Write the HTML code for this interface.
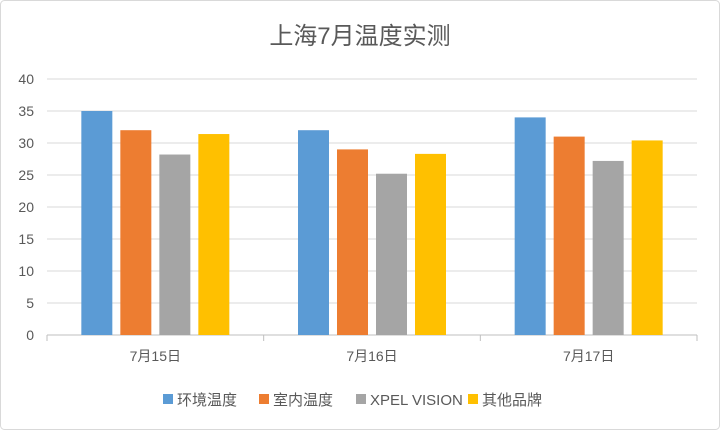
<!DOCTYPE html>
<html><head><meta charset="utf-8"><style>
body{margin:0;background:#fff;}
svg{display:block;font-family:"Liberation Sans","Noto Sans CJK SC",sans-serif;}
</style></head><body>
<svg width="720" height="430">
<rect x="0.5" y="0.5" width="719" height="429" rx="4" fill="#fff" stroke="#d9d9d9"/>
<text x="360" y="44" text-anchor="middle" font-size="24" fill="#595959">上海7月温度实测</text>
<g id="grid"></g><g id="bars"></g><g id="axes"></g><g id="legend"></g>
</svg>
<script>
const categories=["7月15日","7月16日","7月17日"];
const seriesNames=["环境温度","室内温度","XPEL VISION","其他品牌"];
const s1=[35,32,34];
const s2=[32,29,31];
const s3=[28.2,25.2,27.2];
const s4=[31.4,28.3,30.4];
const yTicks=[0,5,10,15,20,25,30,35,40];
const colors=["#5b9bd5","#ed7d31","#a5a5a5","#ffc000"];
const series=[s1,s2,s3,s4];
const NS="http://www.w3.org/2000/svg";
const x0=47,x1=697,y0=335,y1=79,yMax=40;
const y=v=>y0-(v/yMax)*(y0-y1);
const cw=(x1-x0)/categories.length;
const bw=31,gap=8;
function mk(t,a,p){const e=document.createElementNS(NS,t);for(const k in a)e.setAttribute(k,a[k]);p.appendChild(e);return e;}
const grid=document.getElementById('grid'),axes=document.getElementById('axes'),bars=document.getElementById('bars'),leg=document.getElementById('legend');
yTicks.forEach(t=>{
 const l=mk('line',{x1:x0,x2:x1,y1:y(t),y2:y(t),stroke:t===0?'#bfbfbf':'#d9d9d9','stroke-width':1},grid);
 
 
 const tx=mk('text',{x:34,y:y(t)+5,'text-anchor':'end','font-size':14,fill:'#595959'},axes);
 tx.textContent=t;
 
 
});
for(let i=0;i<=categories.length;i++){
 const l=mk('line',{x1:x0+i*cw,x2:x0+i*cw,y1:y0,y2:y0+6,stroke:'#bfbfbf'},axes);
 
 
}
categories.forEach((c,i)=>{
 const cx=x0+cw*(i+0.5);
 const tx=mk('text',{x:cx,y:361,'text-anchor':'middle','font-size':14,fill:'#595959'},axes);
 tx.textContent=c;
 
 
 const total=series.length*bw+(series.length-1)*gap;
 series.forEach((s,j)=>{
  const bx=cx-total/2+j*(bw+gap);
  const r=mk('rect',{x:bx,y:y(s[i]),width:bw,height:y0-y(s[i]),fill:colors[j]},bars);
  
  
 });
});
const lx=[163,259,356,468];
seriesNames.forEach((n,j)=>{
 const r=mk('rect',{x:lx[j],y:394,width:10,height:10,fill:colors[j]},leg);
 
 
 const tx=mk('text',{x:lx[j]+14,y:405,'font-size':15,fill:'#595959'},leg);
 tx.textContent=n;
 
 
});
</script>
</body></html>
